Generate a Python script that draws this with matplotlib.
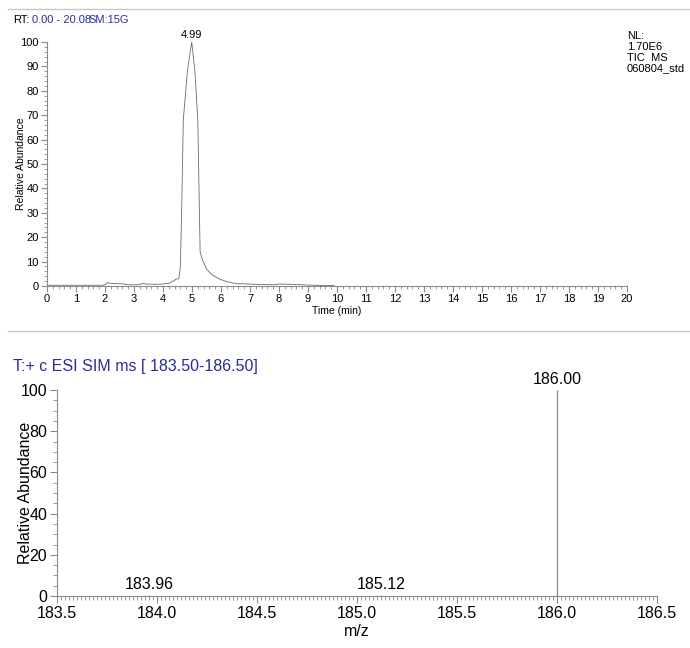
import numpy as np
import matplotlib.pyplot as plt
from matplotlib.lines import Line2D
from matplotlib.ticker import MultipleLocator

plt.rcParams['font.family'] = ['Liberation Sans', 'DejaVu Sans']

# chromatogram (TIC)
rt_min = [0.0, 1.0, 1.9, 2.0, 2.08, 2.15, 2.3, 2.6, 2.8, 3.1, 3.25, 3.32, 3.4, 3.7,
          4.0, 4.2, 4.35, 4.45, 4.55, 4.6, 4.65, 4.7, 4.84, 4.99, 5.1, 5.2, 5.28,
          5.35, 5.5, 5.65, 5.8, 6.0, 6.2, 6.5, 7.0, 7.4, 7.8, 8.0, 8.4, 8.8, 9.2, 9.6, 9.9]
rel_abund = [0.3, 0.3, 0.3, 0.5, 1.4, 1.2, 1.0, 0.9, 0.5, 0.5, 0.8, 1.1, 0.8, 0.7,
             0.8, 1.1, 2.0, 2.8, 3.0, 8.0, 35.0, 68.0, 88.0, 100.0, 88.0, 68.0, 14.0,
             11.0, 7.0, 5.0, 3.8, 2.6, 1.8, 1.0, 0.8, 0.6, 0.5, 0.8, 0.7, 0.5, 0.3, 0.2, 0.2]

# SIM spectrum
mz = [183.96, 185.12, 186.00]
intensity = [0.4, 0.4, 100.0]
mz_labels = ['183.96', '185.12', '186.00']

gray = '#8a8a8a'
blue = '#2b2b9a'

fig = plt.figure(figsize=(6.9, 6.48), dpi=100)

# separator lines
fig.add_artist(Line2D([8 / 690, 1.0], [1 - 9 / 648, 1 - 9 / 648], color='#c8c8c8', lw=1))
fig.add_artist(Line2D([8 / 690, 1.0], [1 - 331 / 648, 1 - 331 / 648], color='#c8c8c8', lw=1))


def style_axes(ax, major_len, minor_len):
    for s in ['top', 'right']:
        ax.spines[s].set_visible(False)
    for s in ['left', 'bottom']:
        ax.spines[s].set_color(gray)
        ax.spines[s].set_linewidth(0.8)
    ax.tick_params(which='major', direction='out', length=major_len, width=0.8, color=gray, pad=2)
    ax.tick_params(which='minor', direction='out', length=minor_len, width=0.6, color=gray)


# ---- top: chromatogram ----
ax1 = fig.add_axes([47 / 690, 1 - 286 / 648, 580 / 690, 244 / 648])
ax1.plot(rt_min, rel_abund, color='#6a6a6a', lw=0.6)
ax1.set_xlim(0, 20)
ax1.set_ylim(0, 100)
ax1.xaxis.set_major_locator(MultipleLocator(1))
ax1.xaxis.set_minor_locator(MultipleLocator(0.2))
ax1.yaxis.set_major_locator(MultipleLocator(10))
ax1.yaxis.set_minor_locator(MultipleLocator(2))
style_axes(ax1, 4, 2)
ax1.tick_params(labelsize=8)
ax1.set_xlabel('Time (min)', fontsize=7.5, labelpad=1)
ax1.set_ylabel('Relative Abundance', fontsize=7.5)
ax1.yaxis.set_label_coords(-0.036, 0.5)
ax1.text(4.99, 101, '4.99', ha='center', va='bottom', fontsize=8)

fig.text(13 / 690, 1 - 20 / 648, 'RT:', fontsize=8, va='center', ha='left')
fig.text(32 / 690, 1 - 20 / 648, '0.00 - 20.08', fontsize=8, va='center', ha='left', color=blue)
fig.text(88 / 690, 1 - 20 / 648, 'SM:15G', fontsize=8, va='center', ha='left', color=blue)
fig.text(627 / 690, 1 - 31 / 648, 'NL:\n1.70E6\nTIC  MS\n060804_std',
         fontsize=8, va='top', ha='left', linespacing=1.1)

# ---- bottom: SIM spectrum ----
ax2 = fig.add_axes([57 / 690, 1 - 596 / 648, 600 / 690, 206 / 648])
ax2.vlines(mz, 0, intensity, color=gray, lw=0.9)
for x, h, lab in zip(mz, intensity, mz_labels):
    ax2.text(x, h + 1.5, lab, ha='center', va='bottom', fontsize=11.5)
ax2.set_xlim(183.5, 186.5)
ax2.set_ylim(0, 100)
ax2.xaxis.set_major_locator(MultipleLocator(0.5))
ax2.xaxis.set_minor_locator(MultipleLocator(0.02))
ax2.xaxis.set_major_formatter(plt.FuncFormatter(lambda v, p: f'{v:.1f}'))
ax2.yaxis.set_major_locator(MultipleLocator(20))
ax2.yaxis.set_minor_locator(MultipleLocator(5))
style_axes(ax2, 5, 3)
ax2.tick_params(labelsize=11.5)
ax2.set_xlabel('m/z', fontsize=11.5, labelpad=2)
ax2.set_ylabel('Relative Abundance', fontsize=11.5)
ax2.yaxis.set_label_coords(-0.04, 0.5)

fig.text(13 / 690, 1 - 367 / 648, 'T:+ c ESI SIM ms [ 183.50-186.50]',
         fontsize=11.5, va='center', ha='left', color=blue)

fig.savefig('out.png', dpi=100)
